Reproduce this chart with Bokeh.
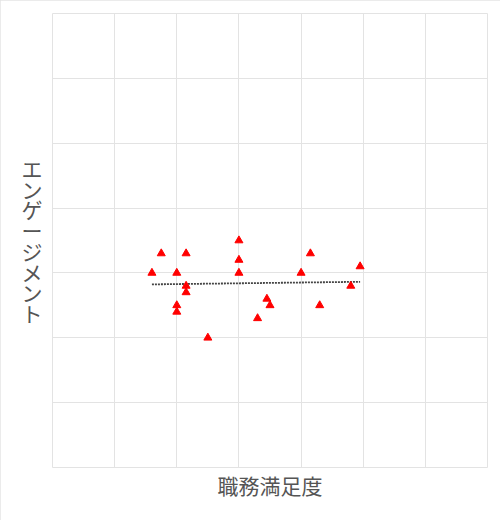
import numpy as np
from bokeh.plotting import figure
from bokeh.models import FixedTicker, Range1d
from bokeh.embed import file_html
from bokeh.resources import INLINE

# data
job_satisfaction = [1.6, 1.75, 2.0, 2.15, 2.15, 2.15, 2.0, 2.0, 2.5, 3.0,
                    3.0, 3.0, 3.3, 3.45, 3.5, 4.0, 4.15, 4.3, 4.8, 4.95]
engagement = [3.0, 3.3, 3.0, 3.3, 2.8, 2.7, 2.5, 2.4, 2.0, 3.5,
              3.2, 3.0, 2.3, 2.6, 2.5, 3.0, 3.3, 2.5, 2.8, 3.1]
x_label = "職務満足度"
y_label = "エンゲージメント"
grid_ticks = [0, 1, 2, 3, 4, 5, 6, 7]

# linear trend
slope, intercept = np.polyfit(job_satisfaction, engagement, 1)
tx = [min(job_satisfaction), max(job_satisfaction)]
ty = [slope * v + intercept for v in tx]

FONT = "Noto Sans CJK JP"
GRID = "#e3e3e3"

p = figure(width=500, height=520, output_backend="svg", toolbar_location=None,
           x_range=Range1d(0, 7), y_range=Range1d(0, 7),
           min_border_left=52, min_border_right=13, min_border_top=13, min_border_bottom=53,
           styles={"outline": "1px solid #e4e4e4", "outline-offset": "-1px"})
p.background_fill_color = "white"
p.border_fill_color = "white"
p.outline_line_color = GRID
p.outline_line_width = 1

for ax in (p.xaxis[0], p.yaxis[0]):
    ax.ticker = FixedTicker(ticks=grid_ticks)
    ax.major_label_text_font_size = "0px"
    ax.major_label_text_color = None
    ax.major_tick_line_color = None
    ax.minor_tick_line_color = None
    ax.axis_line_color = None
    ax.major_label_standoff = 0
    ax.major_tick_out = 0
    ax.axis_label_text_font = FONT
    ax.axis_label_text_font_style = "normal"
    ax.axis_label_text_color = "#555555"
    ax.axis_label_text_font_size = "21px"

p.xaxis.axis_label = x_label
p.xaxis.axis_label_standoff = 2
p.yaxis.axis_label = "\n".join(y_label)
p.yaxis.axis_label_orientation = "horizontal"
p.yaxis.axis_label_text_line_height = 0.69
p.yaxis.axis_label_standoff = 10

p.xgrid.ticker = FixedTicker(ticks=grid_ticks)
p.ygrid.ticker = FixedTicker(ticks=grid_ticks)
p.grid.grid_line_color = GRID
p.grid.grid_line_width = 1

p.line(tx, ty, line_color="#444444", line_width=1.8, line_dash="2 1")
p.scatter(job_satisfaction, engagement, marker="triangle", size=8,
          fill_color="#ff0000", line_color="#ff0000", line_width=1)

open("out.html", "w").write(file_html(p, INLINE))
